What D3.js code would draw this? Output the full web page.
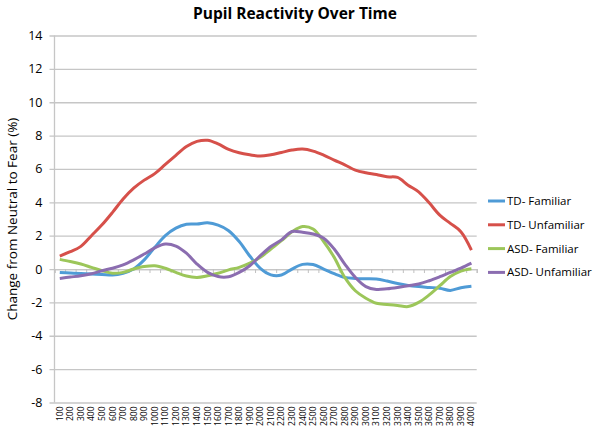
<!DOCTYPE html>
<head>
  <meta charset="utf8">
  <title>Pupil Reactivity Over Time</title>
  <script src="https://d3js.org/d3.v7.min.js"></script>
  <style>
    body { margin: 0; background: #fff; }
    text { font-family: "Open Sans", sans-serif; fill: #000; }
  </style>
</head>
<body>
<script>

  // time bins (ms)
  var times = d3.range(100, 4001, 100);

  // series values
  var tdFamiliar = [-0.2, -0.24, -0.27, -0.3, -0.32, -0.36, -0.25, 0.0, 0.55, 1.3,
                    2.0, 2.45, 2.68, 2.7, 2.77, 2.63, 2.3, 1.65, 0.78, 0.04,
                    -0.35, -0.36, 0.0, 0.28, 0.27, 0.0, -0.28, -0.5, -0.56, -0.58,
                    -0.6, -0.72, -0.87, -0.98, -1.05, -1.1, -1.15, -1.28, -1.12, -1.03];
  var tdUnfamiliar = [0.78, 1.04, 1.36, 2.0, 2.65, 3.4, 4.2, 4.85, 5.33, 5.72,
                      6.27, 6.82, 7.34, 7.65, 7.72, 7.5, 7.17, 6.97, 6.85, 6.77,
                      6.85, 6.99, 7.13, 7.19, 7.07, 6.83, 6.53, 6.25, 5.93, 5.77,
                      5.67, 5.53, 5.49, 5.03, 4.63, 3.97, 3.23, 2.74, 2.24, 1.14];
  var asdFamiliar = [0.58, 0.45, 0.3, 0.1, -0.1, -0.25, -0.2, 0.0, 0.15, 0.2,
                     0.05, -0.2, -0.42, -0.5, -0.4, -0.25, -0.05, 0.1, 0.35, 0.7,
                     1.2, 1.7, 2.23, 2.55, 2.4, 1.65, 0.7, -0.5, -1.3, -1.75,
                     -2.05, -2.12, -2.18, -2.25, -2.0, -1.55, -1.0, -0.45, -0.12, 0.02];
  var asdUnfamiliar = [-0.56, -0.48, -0.4, -0.28, -0.1, 0.05, 0.25, 0.55, 0.9, 1.27,
                       1.5, 1.38, 0.95, 0.3, -0.2, -0.45, -0.46, -0.2, 0.2, 0.8,
                       1.35, 1.75, 2.25, 2.2, 2.1, 1.85, 1.2, 0.3, -0.5, -1.05,
                       -1.22, -1.18, -1.1, -1.0, -0.9, -0.7, -0.46, -0.2, 0.05, 0.35];

  var seriesNames = ["TD- Familiar", "TD- Unfamiliar", "ASD- Familiar", "ASD- Unfamiliar"];
  var seriesColors = ["#4f9bd6", "#d6504a", "#9cc65a", "#8b6db0"];
  var yTicks = d3.range(-8, 15, 2);

  var series = [tdFamiliar, tdUnfamiliar, asdFamiliar, asdUnfamiliar].map(function(v, i) {
    return { name: seriesNames[i], color: seriesColors[i], values: v };
  });

  // note: "top" is taken by window.top, so plot edges get their own names
  var width = 600, height = 432,
      plotLeft = 54.5, plotRight = 476.7, plotTop = 35.5, plotBottom = 402.5;

  var svg = d3.select("body").append("svg")
    .attr("width", width)
    .attr("height", height);

  var x = d3.scaleBand().domain(times).range([plotLeft, plotRight]),
      y = d3.scaleLinear().domain([-8, 14]).range([plotBottom, plotTop]);

  // title
  svg.append("text")
    .attr("x", 295)
    .attr("y", 19)
    .attr("text-anchor", "middle")
    .style("font-size", "15.5px")
    .style("font-weight", "bold")
    .text("Pupil Reactivity Over Time");

  // horizontal gridlines + y axis (plain hyphen for negatives, like the original)
  var yAxis = svg.append("g")
    .attr("transform", "translate(" + plotLeft + ",0)")
    .call(d3.axisLeft(y).tickValues(yTicks).tickFormat(function(d) { return String(d); })
      .tickSizeInner(-(plotRight - plotLeft)).tickSizeOuter(0).tickPadding(12));
  yAxis.select(".domain").remove();
  yAxis.selectAll(".tick line").attr("stroke", "#c6c6c6").attr("stroke-width", 1.3).attr("x1", -5);
  yAxis.selectAll(".tick text").style("font-size", "12.5px").style("font-family", "Open Sans");

  svg.append("line")
    .attr("x1", plotLeft).attr("x2", plotLeft)
    .attr("y1", plotTop).attr("y2", plotBottom)
    .attr("stroke", "#c6c6c6").attr("stroke-width", 1.3);

  // category axis crossing at zero, with ticks between categories
  var xAxis = svg.append("g")
    .attr("transform", "translate(0," + y(0) + ")")
    .call(d3.axisBottom(d3.scaleLinear().domain([0, times.length]).range([plotLeft, plotRight]))
      .ticks(times.length).tickSize(4).tickFormat(""));
  xAxis.select(".domain").attr("stroke", "#c6c6c6").attr("stroke-width", 1.3);
  xAxis.selectAll(".tick line").attr("stroke", "#c0c0c0").attr("stroke-width", 1);

  // category labels at the bottom
  var xLabels = svg.append("g")
    .attr("transform", "translate(0," + plotBottom + ")")
    .call(d3.axisBottom(x).tickSize(0).tickPadding(0));
  xLabels.select(".domain").remove();
  xLabels.selectAll(".tick text")
    .style("font-size", "8.5px")
    .style("font-family", "Open Sans")
    .attr("text-anchor", "end")
    .attr("dy", "0.35em")
    .attr("transform", "translate(0,4) rotate(-90)")
    .attr("x", 0).attr("y", 0);

  // y axis title
  svg.append("text")
    .attr("transform", "translate(17," + ((plotTop + plotBottom) / 2) + ") rotate(-90)")
    .attr("text-anchor", "middle")
    .style("font-size", "13.5px")
    .text("Change from Neutral to Fear (%)");

  // lines
  var line = d3.line()
    .x(function(d, i) { return x(times[i]) + x.bandwidth() / 2; })
    .y(function(d) { return y(d); })
    .curve(d3.curveCatmullRom.alpha(0.5));

  svg.append("g").selectAll("path")
    .data(series)
    .enter().append("path")
    .attr("fill", "none")
    .attr("stroke", function(d) { return d.color; })
    .attr("stroke-width", 3)
    .attr("stroke-linejoin", "round")
    .attr("d", function(d) { return line(d.values); });

  // legend
  var legend = svg.append("g").selectAll("g")
    .data(series)
    .enter().append("g")
    .attr("transform", function(d, i) { return "translate(488," + (201 + i * 23.8) + ")"; });
  legend.append("line")
    .attr("x1", 0).attr("x2", 17)
    .attr("stroke", function(d) { return d.color; })
    .attr("stroke-width", 3);
  legend.append("text")
    .attr("x", 19)
    .attr("dy", "0.35em")
    .style("font-size", "11.5px")
    .text(function(d) { return d.name; });

</script>
</body>
